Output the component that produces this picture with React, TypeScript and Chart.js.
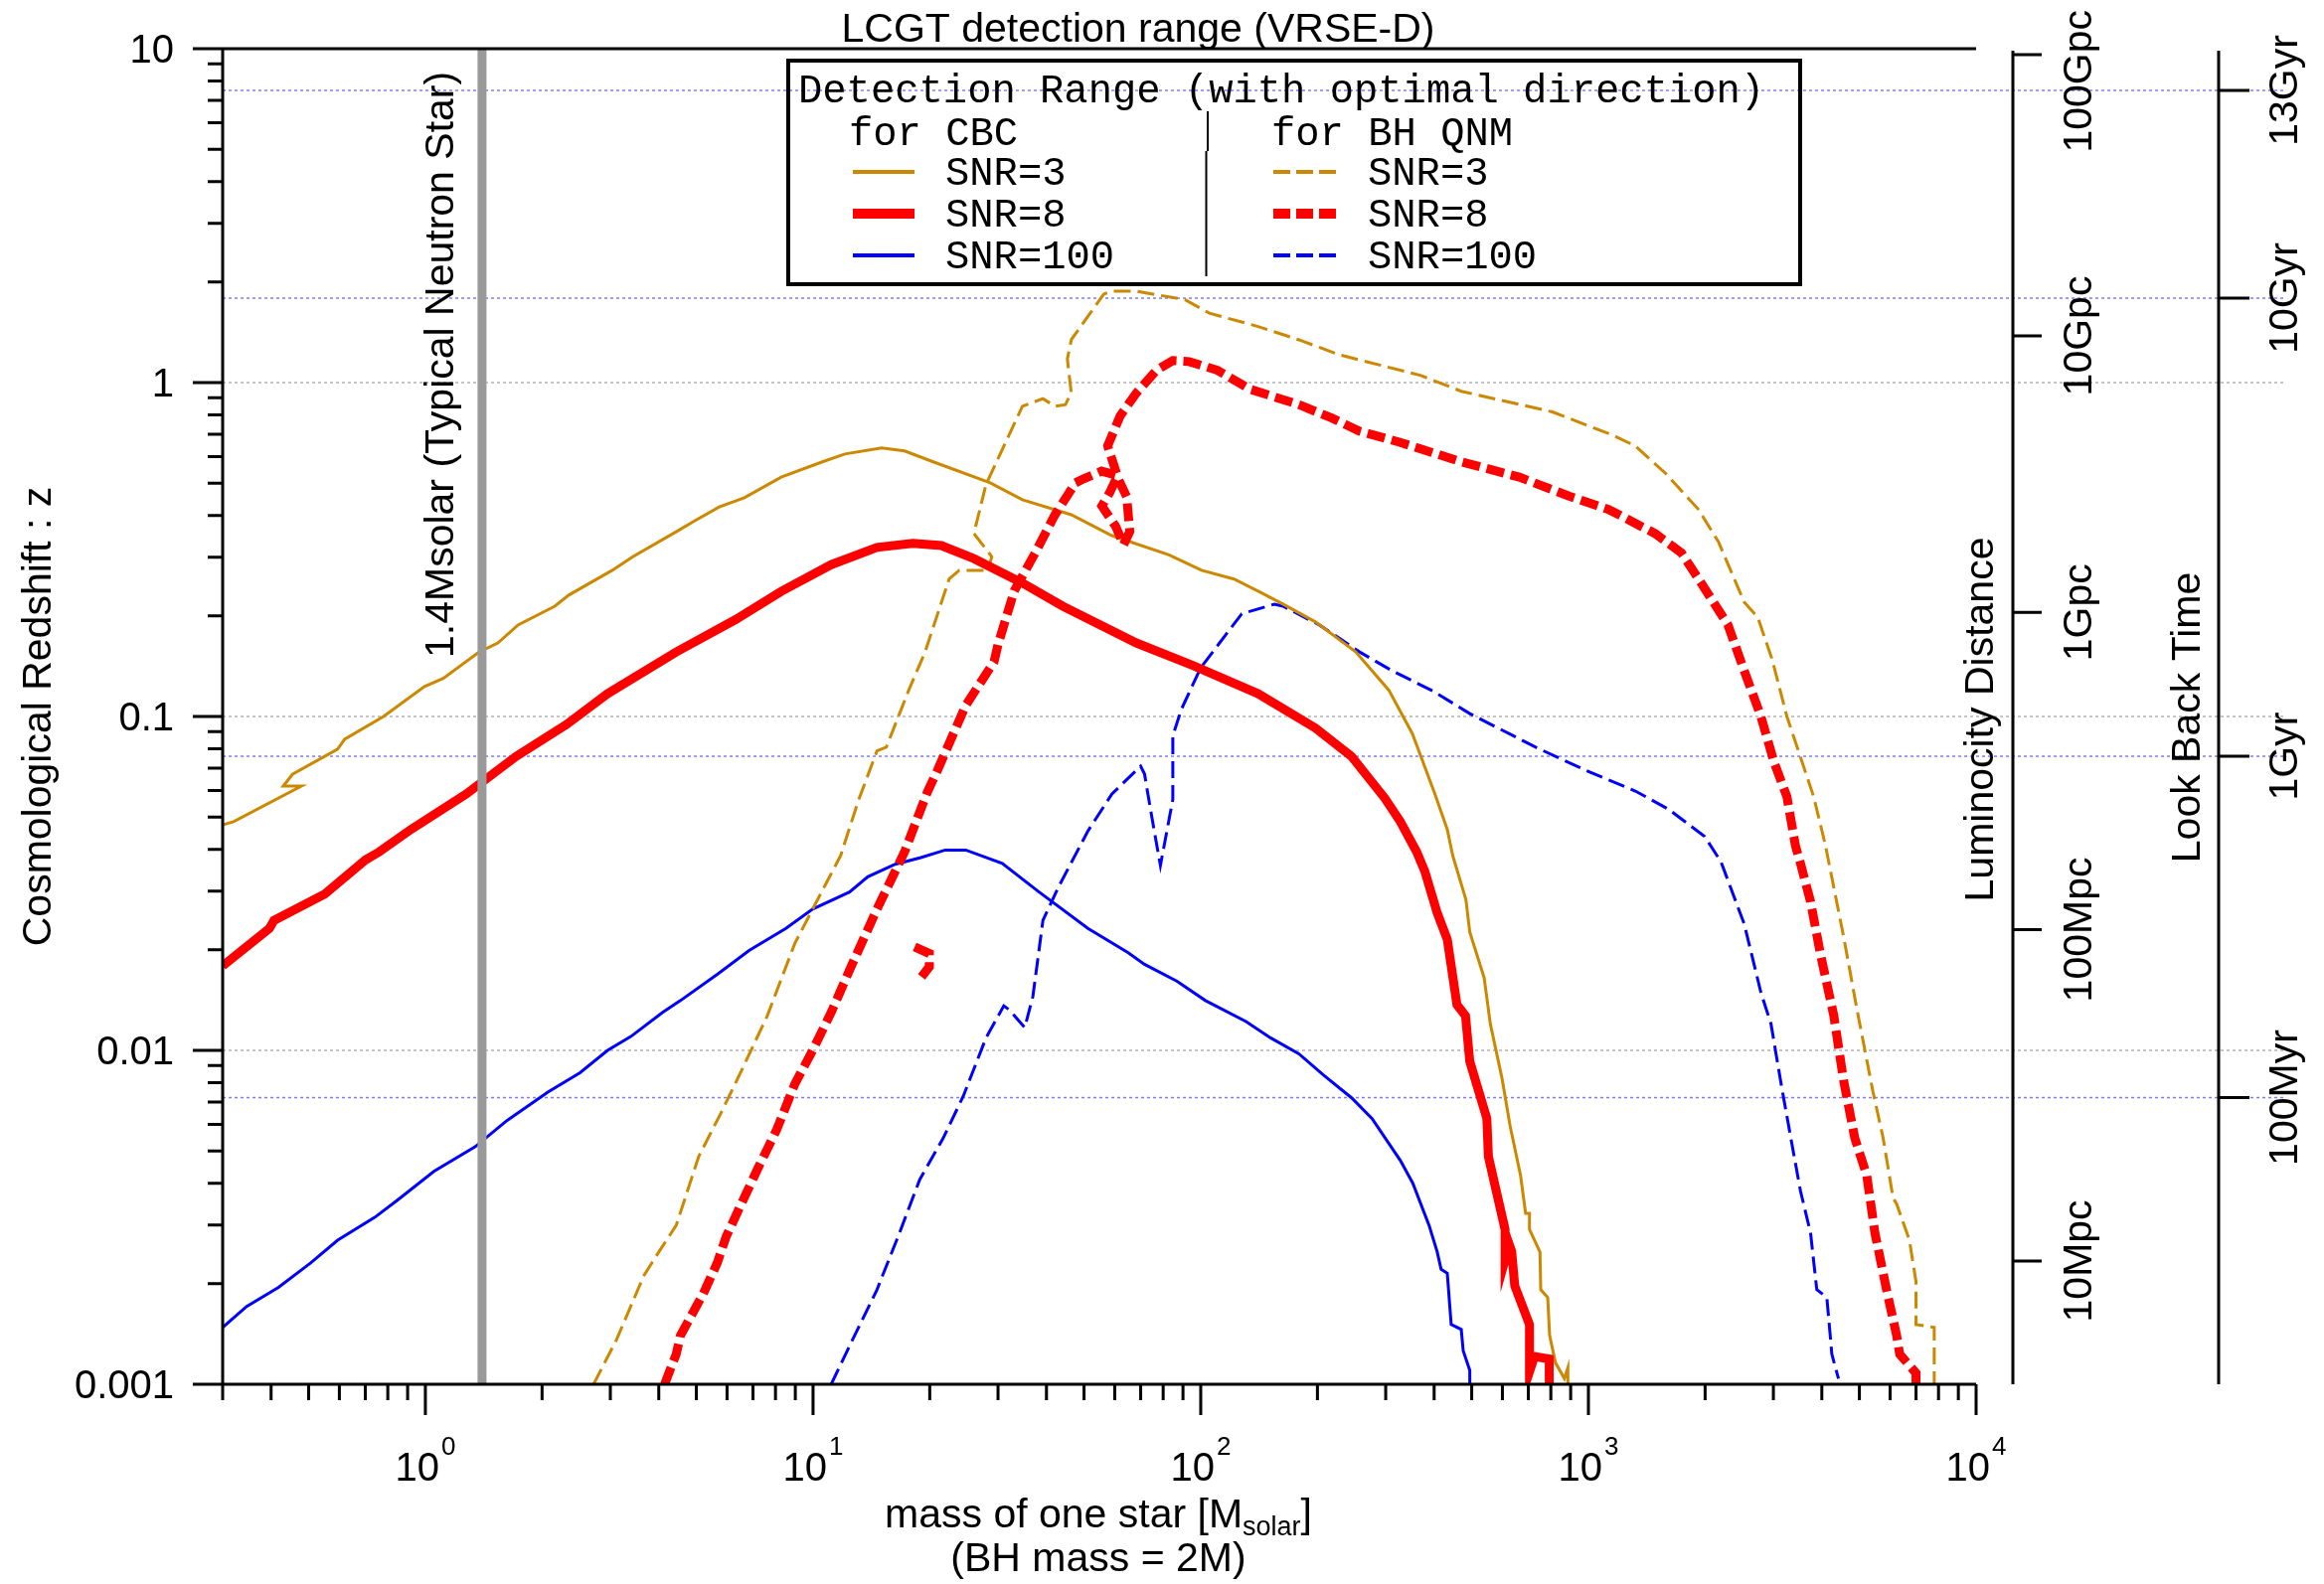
import React, { useEffect, useRef } from 'react';
import { Chart, registerables } from 'chart.js';

Chart.register(...registerables);

const W = 2338;
const H = 1594;

// ---------- axis / tick data ----------
const xMajorTicks = [1, 10, 100, 1000, 10000];
const xMajorExponents = ['0', '1', '2', '3', '4'];
const yMajorTicks = [10, 1, 0.1, 0.01, 0.001];
const yMajorLabels = ['10', '1', '0.1', '0.01', '0.001'];
const zGridLines = [1, 0.1, 0.01];
const lumDistTickZ = [9.6, 1.38, 0.205, 0.023, 0.00234];
const lumDistLabels = ['100Gpc', '10Gpc', '1Gpc', '100Mpc', '10Mpc'];
const lookBackTickZ = [7.5, 1.79, 0.076, 0.00722];
const lookBackLabels = ['13Gyr', '10Gyr', '1Gyr', '100Myr'];
const neutronStarMass = 1.4;

// ---------- series: [mass of one star, redshift z] ----------
const cbcSnr3 = [
  [0.3, 0.0474], [0.32, 0.0484], [0.479, 0.0619], [0.43, 0.0619], [0.454, 0.0671], [0.594, 0.0798],
  [0.619, 0.0855], [0.78, 0.1], [0.995, 0.123], [1.112, 0.13], [1.377, 0.156], [1.538, 0.166],
  [1.734, 0.188], [2.158, 0.214], [2.344, 0.231], [3.034, 0.274], [3.428, 0.301], [4.446, 0.358],
  [4.943, 0.385], [5.728, 0.424], [6.653, 0.452], [8.279, 0.521], [10.57, 0.579], [12.08, 0.611],
  [15.03, 0.637], [17.22, 0.624], [20.42, 0.579], [28.64, 0.501], [34.67, 0.446], [46.35, 0.402],
  [59.02, 0.348], [82.79, 0.305], [100.5, 0.274], [121.9, 0.258], [143.9, 0.234], [162.9, 0.217],
  [197.7, 0.192], [251.2, 0.156], [305.5, 0.12], [351.6, 0.0887], [369.8, 0.0759], [402.7, 0.0582],
  [432.5, 0.0459], [446.7, 0.0383], [483.1, 0.0283], [494.3, 0.0226], [538.3, 0.0165], [558.5, 0.012],
  [598.4, 0.00826], [628.1, 0.00594], [668.3, 0.00422], [688.7, 0.00325], [704.7, 0.00325],
  [704.7, 0.00291], [749.9, 0.00249], [753.4, 0.00192], [785.2, 0.00182], [794.3, 0.0014],
  [822.4, 0.00116], [867.0, 0.00104], [885.1, 0.00112], [885.1, 0.001],
];

const cbcSnr8 = [
  [0.3, 0.0179], [0.396, 0.0232], [0.407, 0.0245], [0.55, 0.0294], [0.701, 0.0372], [0.76, 0.0393],
  [0.918, 0.0459], [1.274, 0.0586], [1.714, 0.0759], [2.312, 0.0946], [2.951, 0.117], [4.436, 0.156],
  [6.31, 0.195], [8.279, 0.237], [11.14, 0.285], [14.62, 0.321], [18.07, 0.33], [21.43, 0.325],
  [26.0, 0.297], [34.67, 0.251], [44.06, 0.214], [68.23, 0.166], [95.72, 0.142], [140.6, 0.117],
  [197.7, 0.0923], [244.9, 0.0759], [298.5, 0.0569], [327.3, 0.0484], [360.6, 0.0393], [378.4, 0.0344],
  [407.4, 0.0258], [432.5, 0.0215], [458.1, 0.0137], [481.9, 0.0127], [494.3, 0.00927], [547.0, 0.00625],
  [552.1, 0.00481], [609.5, 0.00291], [609.5, 0.00236], [625.0, 0.00262], [633.9, 0.0025], [645.7, 0.00197],
  [704.7, 0.00151], [704.7, 0.00109], [726.1, 0.00121], [792.5, 0.00119], [792.5, 0.001],
];

const cbcSnr100 = [
  [0.3, 0.00148], [0.346, 0.00171], [0.418, 0.00195], [0.506, 0.00231], [0.594, 0.0027], [0.74, 0.00316],
  [0.847, 0.00356], [1.052, 0.00434], [1.343, 0.00514], [1.626, 0.00617], [2.07, 0.0075], [2.506, 0.00857],
  [2.951, 0.01], [3.388, 0.011], [4.093, 0.013], [4.55, 0.0141], [5.662, 0.0169], [6.839, 0.0199],
  [8.511, 0.0232], [9.977, 0.0265], [12.42, 0.0298], [13.84, 0.0331], [16.29, 0.0361], [18.97, 0.0378],
  [21.93, 0.0398], [24.77, 0.0398], [30.76, 0.0363], [38.28, 0.0298], [51.17, 0.0232], [65.01, 0.0196],
  [71.61, 0.0181], [86.9, 0.0161], [102.8, 0.0141], [130.9, 0.0122], [151.4, 0.0109], [179.1, 0.00977],
  [207.0, 0.00845], [244.9, 0.00721], [276.7, 0.00625], [327.3, 0.00468], [352.4, 0.004], [388.2, 0.00299],
  [407.4, 0.00249], [416.9, 0.00221], [432.5, 0.00215], [442.6, 0.00151], [469.9, 0.00146],
  [475.3, 0.00126], [494.3, 0.0011], [494.3, 0.001],
];

const qnmSnr3 = [
  [2.716, 0.001], [3.112, 0.00136], [3.664, 0.00212], [4.027, 0.00252], [4.436, 0.00299], [5.07, 0.00481],
  [5.821, 0.00658], [6.561, 0.00877], [7.621, 0.0127], [8.974, 0.0209], [9.977, 0.0265], [11.78, 0.0383],
  [13.09, 0.056], [14.62, 0.0789], [15.45, 0.0809], [17.66, 0.12], [19.45, 0.156], [22.44, 0.258],
  [23.82, 0.274], [28.25, 0.274], [28.91, 0.301], [26.0, 0.353], [27.93, 0.495], [34.67, 0.849],
  [39.17, 0.895], [42.07, 0.849], [44.77, 0.859], [46.35, 0.931], [45.29, 1.178], [46.35, 1.343],
  [56.23, 1.841], [59.02, 1.879], [68.23, 1.879], [91.2, 1.77], [105.2, 1.614], [140.6, 1.472],
  [179.1, 1.343], [228.0, 1.211], [369.8, 1.05], [469.9, 0.942], [807.2, 0.817], [1151, 0.697],
  [1321, 0.646], [1578, 0.536], [1919, 0.418], [2163, 0.334], [2523, 0.22], [2735, 0.198], [2979, 0.148],
  [3251, 0.1], [3811, 0.0575], [4083, 0.0413], [4550, 0.022], [4920, 0.0134], [5420, 0.00752],
  [5754, 0.00548], [6109, 0.00361], [6237, 0.00347], [6730, 0.0027], [6998, 0.00203], [6998, 0.00151],
  [7798, 0.00148], [7798, 0.001],
];

const qnmSnr8 = [
  [4.14, 0.001], [4.436, 0.00123], [4.55, 0.0014], [5.212, 0.00187], [5.662, 0.00231], [5.97, 0.00277],
  [6.486, 0.00341], [7.211, 0.00444], [8.054, 0.00578], [8.974, 0.00793], [9.977, 0.01], [11.14, 0.013],
  [12.42, 0.0174], [14.62, 0.0265], [17.22, 0.0393], [19.72, 0.0594], [20.94, 0.069], [24.77, 0.108],
  [29.31, 0.146], [29.99, 0.164], [33.04, 0.238], [37.41, 0.309], [42.07, 0.402], [47.53, 0.501],
  [49.89, 0.515], [55.46, 0.543], [60.67, 0.528], [64.42, 0.455], [65.61, 0.358], [63.24, 0.327],
  [60.26, 0.372], [55.59, 0.427], [58.21, 0.468], [60.95, 0.525], [57.54, 0.646], [61.94, 0.794],
  [68.23, 0.931], [76.91, 1.089], [84.72, 1.164], [93.33, 1.156], [110.4, 1.089], [134.0, 0.955],
  [179.1, 0.859], [217.8, 0.783], [257.0, 0.715], [327.3, 0.662], [469.9, 0.579], [663.7, 0.521],
  [891.3, 0.457], [1127, 0.417], [1486, 0.353], [1738, 0.309], [1954, 0.251], [2291, 0.188], [2523, 0.137],
  [2786, 0.1], [3013, 0.0729], [3251, 0.0575], [3420, 0.041], [3524, 0.0363], [3741, 0.0279],
  [3972, 0.0193], [4295, 0.0127], [4550, 0.00815], [4864, 0.00547], [5224, 0.00422], [5483, 0.00284],
  [5875, 0.00192], [6237, 0.0014], [6353, 0.00123], [6998, 0.00108], [6998, 0.001],
];

const qnmSnr8Fragment = [
  [18.28, 0.0204], [19.95, 0.0195], [19.95, 0.0178], [19.05, 0.0166],
];

const qnmSnr100 = [
  [11.14, 0.001], [12.25, 0.00126], [14.62, 0.00192], [16.71, 0.00284], [18.84, 0.0041], [21.68, 0.00547],
  [24.43, 0.00731], [27.93, 0.0109], [31.05, 0.0136], [32.14, 0.0132], [35.16, 0.0117], [36.9, 0.0145],
  [39.17, 0.0245], [43.05, 0.031], [51.17, 0.0454], [59.02, 0.0586], [69.98, 0.071], [71.61, 0.0673],
  [74.99, 0.0491], [78.7, 0.0358], [84.72, 0.0564], [84.72, 0.0875], [89.13, 0.105], [100, 0.14],
  [127.6, 0.203], [154.9, 0.217], [162.9, 0.214], [202.3, 0.188], [257.0, 0.156], [311.9, 0.137],
  [398.1, 0.119], [494.3, 0.102], [731.1, 0.0809], [984.0, 0.069], [1321, 0.0598], [1607, 0.0528],
  [1995, 0.0437], [2198, 0.0367], [2523, 0.0239], [2786, 0.0149], [2958, 0.012], [3141, 0.00793],
  [3327, 0.00547], [3524, 0.00379], [3741, 0.00284], [3882, 0.00192], [4121, 0.00182], [4246, 0.00123],
  [4416, 0.00104],
];

// ---------- styles ----------
const ORANGE = 'rgb(204,136,0)';
const RED = 'rgb(255,0,0)';
const BLUE = 'rgb(0,0,255)';
const SANS = '"Liberation Sans", Arial, sans-serif';
const MONO = '"Liberation Mono", "DejaVu Sans Mono", monospace';
const DASH_THIN = [17, 7];
const DASH_THICK = [18, 7];

type Style = { color: string; width: number; dash: number[] };
const styleCbc3: Style = { color: ORANGE, width: 3, dash: [] };
const styleCbc8: Style = { color: RED, width: 9, dash: [] };
const styleCbc100: Style = { color: BLUE, width: 3, dash: [] };
const styleQnm3: Style = { color: ORANGE, width: 3, dash: DASH_THIN };
const styleQnm8: Style = { color: RED, width: 9, dash: DASH_THICK };
const styleQnm100: Style = { color: BLUE, width: 3, dash: DASH_THIN };

const legendLabels = ['SNR=3', 'SNR=8', 'SNR=100'];
const legendCbcStyles = [styleCbc3, styleCbc8, styleCbc100];
const legendQnmStyles = [styleQnm3, styleQnm8, styleQnm100];

function toPoints(arr: number[][]) {
  return arr.map(([m, z]) => ({ x: m, y: z }));
}

function makeDataset(arr: number[][], s: Style, order = 1) {
  return {
    data: toPoints(arr),
    borderColor: s.color,
    backgroundColor: s.color,
    borderWidth: s.width,
    borderDash: s.dash,
    pointRadius: 0,
    fill: false,
    tension: 0,
    order,
  };
}

function rotText(ctx: CanvasRenderingContext2D, text: string, x: number, y: number, align: CanvasTextAlign) {
  ctx.save();
  ctx.translate(x, y);
  ctx.rotate(-Math.PI / 2);
  ctx.textAlign = align;
  ctx.textBaseline = 'alphabetic';
  ctx.fillText(text, 0, 0);
  ctx.restore();
}

const GRID_RIGHT = 2298;
const LUM_AXIS_X = 2025;
const LOOK_AXIS_X = 2232;

const decorPlugin = {
  id: 'lcgtDecor',
  beforeDatasetsDraw(chart: any) {
    const ctx: CanvasRenderingContext2D = chart.ctx;
    const ys = chart.scales.y;
    const { left } = chart.chartArea;
    ctx.save();
    ctx.lineWidth = 1.5;
    ctx.setLineDash([3, 3]);
    ctx.strokeStyle = 'rgb(180,180,180)';
    for (const z of zGridLines) {
      const y = ys.getPixelForValue(z);
      ctx.beginPath();
      ctx.moveTo(left, y);
      ctx.lineTo(GRID_RIGHT, y);
      ctx.stroke();
    }
    ctx.strokeStyle = 'rgb(125,125,255)';
    for (const z of lookBackTickZ) {
      const y = ys.getPixelForValue(z);
      ctx.beginPath();
      ctx.moveTo(left, y);
      ctx.lineTo(GRID_RIGHT, y);
      ctx.stroke();
    }
    ctx.restore();
  },
  afterDatasetsDraw(chart: any) {
    const ctx: CanvasRenderingContext2D = chart.ctx;
    const xs = chart.scales.x;
    const ys = chart.scales.y;
    const { left, right, top, bottom } = chart.chartArea;
    ctx.save();
    ctx.setLineDash([]);
    ctx.strokeStyle = '#000';
    ctx.fillStyle = '#000';
    ctx.lineWidth = 3;
    ctx.lineCap = 'butt';

    // frame lines: left axis, top line, bottom axis
    ctx.beginPath();
    ctx.moveTo(left, top);
    ctx.lineTo(left, bottom);
    ctx.moveTo(left, top);
    ctx.lineTo(right, top);
    ctx.moveTo(left, bottom);
    ctx.lineTo(right, bottom);
    ctx.stroke();

    // y ticks
    ctx.beginPath();
    for (let e = -3; e <= 1; e++) {
      const v = Math.pow(10, e);
      const y = ys.getPixelForValue(v);
      ctx.moveTo(left - 30, y);
      ctx.lineTo(left, y);
      if (e < 1) {
        for (let k = 2; k <= 9; k++) {
          const yy = ys.getPixelForValue(k * v);
          ctx.moveTo(left - 15, yy);
          ctx.lineTo(left, yy);
        }
      }
    }
    // x ticks
    for (let e = -1; e <= 4; e++) {
      const v = Math.pow(10, e);
      if (v >= 1) {
        const x = xs.getPixelForValue(v);
        ctx.moveTo(x, bottom);
        ctx.lineTo(x, bottom + 31);
      }
      if (e < 4) {
        for (let k = 2; k <= 9; k++) {
          const vv = k * v;
          if (vv < 0.3 - 1e-9) continue;
          const xx = xs.getPixelForValue(vv);
          ctx.moveTo(xx, bottom);
          ctx.lineTo(xx, bottom + 16);
        }
      }
    }
    ctx.stroke();

    // y tick labels
    ctx.font = `40px ${SANS}`;
    ctx.textAlign = 'right';
    ctx.textBaseline = 'alphabetic';
    yMajorTicks.forEach((v, i) => {
      const y = ys.getPixelForValue(v);
      ctx.fillText(yMajorLabels[i], left - 49, y + 13.5);
    });

    // x tick labels with superscripts
    xMajorTicks.forEach((v, i) => {
      const x = xs.getPixelForValue(v);
      ctx.font = `40px ${SANS}`;
      const wb = ctx.measureText('10').width;
      ctx.font = `26px ${SANS}`;
      const ws = ctx.measureText(xMajorExponents[i]).width;
      const start = x - (wb + ws + 2) / 2;
      ctx.textAlign = 'left';
      ctx.font = `40px ${SANS}`;
      ctx.fillText('10', start, 1490);
      ctx.font = `26px ${SANS}`;
      ctx.fillText(xMajorExponents[i], start + wb + 2, 1464);
    });

    // x axis title
    {
      const p1 = 'mass of one star [M';
      const p2 = 'solar';
      const p3 = ']';
      ctx.font = `41px ${SANS}`;
      const w1 = ctx.measureText(p1).width;
      const w3 = ctx.measureText(p3).width;
      ctx.font = `27px ${SANS}`;
      const w2 = ctx.measureText(p2).width;
      const start = 1105 - (w1 + w2 + w3) / 2;
      ctx.textAlign = 'left';
      ctx.font = `41px ${SANS}`;
      ctx.fillText(p1, start, 1537);
      ctx.font = `27px ${SANS}`;
      ctx.fillText(p2, start + w1, 1545);
      ctx.font = `41px ${SANS}`;
      ctx.fillText(p3, start + w1 + w2, 1537);
      ctx.textAlign = 'center';
      ctx.fillText('(BH mass = 2M)', 1105, 1581);
    }

    // title
    ctx.font = `41px ${SANS}`;
    ctx.textAlign = 'center';
    ctx.fillText('LCGT detection range (VRSE-D)', 1145, 42);

    // y axis title
    rotText(ctx, 'Cosmological Redshift : z', 51, (top + bottom) / 2, 'center');

    // neutron star label
    rotText(ctx, '1.4Msolar (Typical Neutron Star)', xs.getPixelForValue(neutronStarMass) - 29, 662, 'left');

    // right axes
    ctx.lineWidth = 3;
    ctx.beginPath();
    ctx.moveTo(LUM_AXIS_X, top + 2);
    ctx.lineTo(LUM_AXIS_X, bottom);
    ctx.moveTo(LOOK_AXIS_X, top + 2);
    ctx.lineTo(LOOK_AXIS_X, bottom);
    for (const z of lumDistTickZ) {
      const y = ys.getPixelForValue(z);
      ctx.moveTo(LUM_AXIS_X, y);
      ctx.lineTo(LUM_AXIS_X + 29, y);
    }
    for (const z of lookBackTickZ) {
      const y = ys.getPixelForValue(z);
      ctx.moveTo(LOOK_AXIS_X, y);
      ctx.lineTo(LOOK_AXIS_X + 31, y);
    }
    ctx.stroke();

    ctx.font = `41px ${SANS}`;
    lumDistTickZ.forEach((z, i) => {
      const y = ys.getPixelForValue(z);
      const half = ctx.measureText(lumDistLabels[i]).width / 2;
      const cy = Math.min(Math.max(y, 10 + half), H - 10 - half);
      rotText(ctx, lumDistLabels[i], 2104, cy, 'center');
    });
    lookBackTickZ.forEach((z, i) => {
      const y = ys.getPixelForValue(z);
      const half = ctx.measureText(lookBackLabels[i]).width / 2;
      const cy = Math.max(y, 10 + half);
      rotText(ctx, lookBackLabels[i], 2311, cy, 'center');
    });
    rotText(ctx, 'Luminocity Distance', 2005, 724, 'center');
    rotText(ctx, 'Look Back Time', 2213, 722, 'center');

    // legend box
    ctx.lineWidth = 4;
    ctx.strokeRect(793, 61, 1018, 225);
    ctx.font = `40.5px ${MONO}`;
    ctx.textAlign = 'left';
    ctx.fillText('Detection Range (with optimal direction)', 803, 103);
    ctx.fillText('for CBC', 854, 146);
    ctx.fillText('for BH QNM', 1279, 146);
    ctx.lineWidth = 2;
    ctx.beginPath();
    ctx.moveTo(1215, 112);
    ctx.lineTo(1215, 152);
    ctx.moveTo(1213.5, 152);
    ctx.lineTo(1213.5, 278);
    ctx.stroke();
    const rowY = [173, 215, 257];
    legendLabels.forEach((lab, i) => {
      const y = rowY[i];
      const sc = legendCbcStyles[i];
      ctx.strokeStyle = sc.color;
      ctx.lineWidth = sc.width + 1;
      ctx.setLineDash([]);
      ctx.beginPath();
      ctx.moveTo(858, y);
      ctx.lineTo(920, y);
      ctx.stroke();
      const sq = legendQnmStyles[i];
      ctx.strokeStyle = sq.color;
      ctx.lineWidth = sq.width + 1;
      ctx.setLineDash([17, 6]);
      ctx.beginPath();
      ctx.moveTo(1281, y);
      ctx.lineTo(1344, y);
      ctx.stroke();
      ctx.setLineDash([]);
      ctx.fillStyle = '#000';
      ctx.fillText(lab, 951, y + 13);
      ctx.fillText(lab, 1376, y + 13);
    });
    ctx.restore();
  },
};

export default function App() {
  const ref = useRef<HTMLCanvasElement>(null);
  useEffect(() => {
    document.body.style.margin = '0';
    const canvas = ref.current;
    if (!canvas) return;
    const datasets = [
      {
        data: [
          { x: neutronStarMass, y: 0.001 },
          { x: neutronStarMass, y: 10 },
        ],
        borderColor: 'rgb(153,153,153)',
        borderWidth: 9,
        pointRadius: 0,
        fill: false,
        order: 0,
      },
      makeDataset(cbcSnr8, styleCbc8),
      makeDataset(qnmSnr8, styleQnm8),
      makeDataset(qnmSnr8Fragment, styleQnm8),
      makeDataset(cbcSnr3, styleCbc3),
      makeDataset(qnmSnr3, styleQnm3),
      makeDataset(cbcSnr100, styleCbc100),
      makeDataset(qnmSnr100, styleQnm100),
    ];
    const chart = new Chart(canvas, {
      type: 'line',
      data: { datasets } as any,
      options: {
        responsive: false,
        maintainAspectRatio: false,
        animation: false,
        devicePixelRatio: 1,
        events: [],
        layout: { padding: { left: 224, right: W - 1988, top: 49, bottom: H - 1393 } },
        scales: {
          x: { type: 'logarithmic', min: 0.3, max: 10000, display: false },
          y: { type: 'logarithmic', min: 0.001, max: 10, display: false },
        },
        plugins: { legend: { display: false }, tooltip: { enabled: false } },
      } as any,
      plugins: [decorPlugin as any],
    });
    return () => chart.destroy();
  }, []);
  return <canvas ref={ref} width={W} height={H} style={{ display: 'block', width: W, height: H }} />;
}
